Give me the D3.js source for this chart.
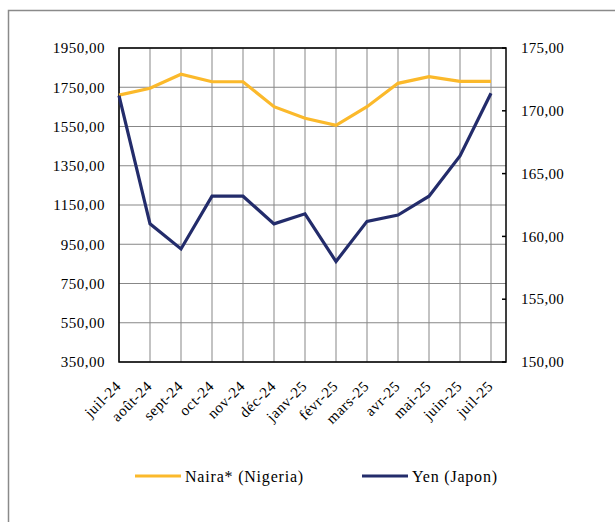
<!DOCTYPE html>
<html>
<head>
<meta charset="utf-8">
<script src="https://cdn.jsdelivr.net/npm/d3@7"></script>
<style>
    body { margin: 0; background: #fff; }
</style>
</head>
<body>
<div id="chart"></div>
<script>
// Donnees
const mois = ["juil-24", "août-24", "sept-24", "oct-24", "nov-24", "déc-24", "janv-25",
    "févr-25", "mars-25", "avr-25", "mai-25", "juin-25", "juil-25"];
const naira = [1710, 1745, 1816, 1778, 1778, 1651, 1592, 1556, 1651, 1770, 1804, 1780, 1780];
const yen = [171.2, 161.0, 159.0, 163.2, 163.2, 161.0, 161.8, 158.0, 161.2, 161.7, 163.2, 166.4, 171.4];
const ticksGauche = [350, 550, 750, 950, 1150, 1350, 1550, 1750, 1950];
const ticksDroite = [150, 155, 160, 165, 170, 175];

const width = 615, height = 522;
const plotLeft = 119, plotRight = 506, plotTop = 48, plotBottom = 362;
const lastX = 491;
const police = '"Liberation Serif"';

const fmt = d => d3.format(".2f")(d).replace(".", ",");

const svg = d3.select("#chart").append("svg")
    .attr("width", width)
    .attr("height", height);

// cadre exterieur
svg.append("path")
    .attr("d", `M8.5,${height + 5} L8.5,10.5 L${width + 5},10.5`)
    .attr("fill", "none")
    .attr("stroke", "#8a8a8a")
    .attr("stroke-width", 1.5);

const x = d3.scalePoint().domain(mois).range([plotLeft, lastX]);
const yG = d3.scaleLinear().domain([350, 1950]).range([plotBottom, plotTop]);
const yD = d3.scaleLinear().domain([150, 175]).range([plotBottom, plotTop]);

// grille
svg.append("g").selectAll("line")
    .data(ticksGauche)
    .enter().append("line")
    .attr("x1", plotLeft).attr("x2", plotRight)
    .attr("y1", d => yG(d)).attr("y2", d => yG(d))
    .attr("stroke", "#878787").attr("stroke-width", 1);

svg.append("g").selectAll("line")
    .data(mois)
    .enter().append("line")
    .attr("x1", d => x(d)).attr("x2", d => x(d))
    .attr("y1", plotTop).attr("y2", plotBottom)
    .attr("stroke", "#878787").attr("stroke-width", 1);

// axe droit (graduations vers l'interieur)
svg.append("g").selectAll("line")
    .data(ticksDroite)
    .enter().append("line")
    .attr("x1", plotRight - 4).attr("x2", plotRight)
    .attr("y1", d => yD(d)).attr("y2", d => yD(d))
    .attr("stroke", "#000").attr("stroke-width", 1.5);

// cadre du graphique
svg.append("rect")
    .attr("x", plotLeft).attr("y", plotTop)
    .attr("width", plotRight - plotLeft).attr("height", plotBottom - plotTop)
    .attr("fill", "none")
    .attr("stroke", "#000").attr("stroke-width", 1.5);

// etiquettes axe gauche
svg.append("g").selectAll("text")
    .data(ticksGauche)
    .enter().append("text")
    .attr("x", 105)
    .attr("y", d => yG(d))
    .attr("dy", "0.35em")
    .attr("text-anchor", "end")
    .style("font-family", police)
    .style("font-size", "15px")
    .style("letter-spacing", "0.5px")
    .text(fmt);

// etiquettes axe droit
svg.append("g").selectAll("text")
    .data(ticksDroite)
    .enter().append("text")
    .attr("x", 521)
    .attr("y", d => yD(d))
    .attr("dy", "0.35em")
    .style("font-family", police)
    .style("font-size", "15px")
    .style("letter-spacing", "0.3px")
    .text(fmt);

// etiquettes des mois
svg.append("g").selectAll("text")
    .data(mois)
    .enter().append("text")
    .attr("transform", d => `translate(${x(d) + 3},${plotBottom + 25}) rotate(-45)`)
    .attr("text-anchor", "end")
    .style("font-family", police)
    .style("font-size", "15px")
    .style("letter-spacing", "0.6px")
    .text(d => d);

// courbes
const ligneNaira = d3.line()
    .x((d, i) => x(mois[i]))
    .y(d => yG(d));
const ligneYen = d3.line()
    .x((d, i) => x(mois[i]))
    .y(d => yD(d));

svg.append("path")
    .datum(naira)
    .attr("d", ligneNaira)
    .attr("fill", "none")
    .attr("stroke", "#FBB92B")
    .attr("stroke-width", 3.2);

svg.append("path")
    .datum(yen)
    .attr("d", ligneYen)
    .attr("fill", "none")
    .attr("stroke", "#232C6B")
    .attr("stroke-width", 3.2);

// legende
const legende = [
    { nom: "Naira* (Nigeria)", couleur: "#FBB92B", x: 135 },
    { nom: "Yen (Japon)", couleur: "#232C6B", x: 362 }
];
const leg = svg.append("g").selectAll("g")
    .data(legende)
    .enter().append("g")
    .attr("transform", d => `translate(${d.x},476)`);
leg.append("line")
    .attr("x1", 0).attr("x2", 46)
    .attr("stroke", d => d.couleur)
    .attr("stroke-width", 3);
leg.append("text")
    .attr("x", 50)
    .attr("dy", "0.35em")
    .style("font-family", police)
    .style("font-size", "16px")
    .style("letter-spacing", "0.8px")
    .text(d => d.nom);
</script>
</body>
</html>
